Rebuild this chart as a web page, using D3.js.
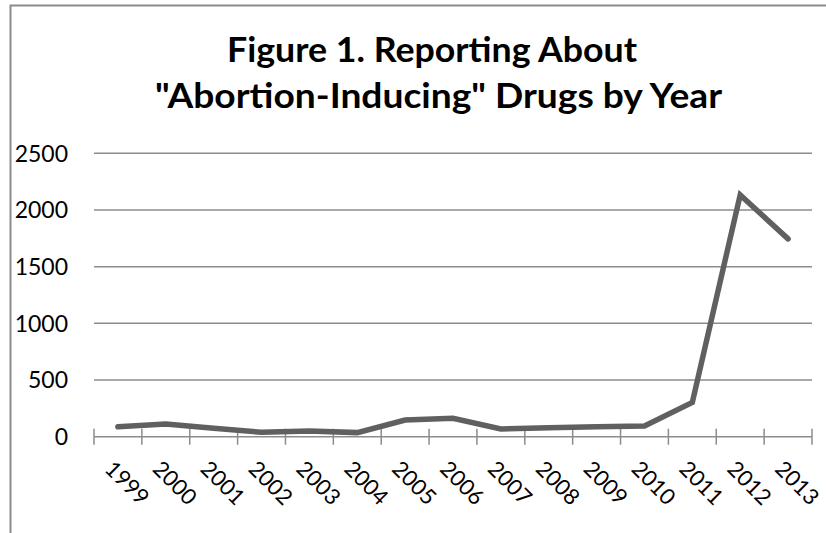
<!DOCTYPE html>
<html><head><meta charset="utf-8">
<script src="https://cdn.jsdelivr.net/npm/d3@7"></script>
<style>html,body{margin:0;padding:0;background:#fff;}svg{display:block;}</style>
</head><body>
<script>
const titleLines = ["Figure 1. Reporting About", "\"Abortion-Inducing\" Drugs by Year"];
const years = ["1999","2000","2001","2002","2003","2004","2005","2006","2007","2008","2009","2010","2011","2012","2013"];
const counts = [88, 112, 74, 39, 50, 36, 147, 162, 68, 80, 88, 94, 303, 2133, 1745];
const yTicks = [0, 500, 1000, 1500, 2000, 2500];

const W = 826, H = 533;
const svg = d3.select("body").append("svg").attr("width", W).attr("height", H);
svg.append("rect").attr("width", W).attr("height", H).attr("fill", "#fff");

// chart border (left + top)
svg.append("path").attr("d", "M10.5,533 V5.5 H826").attr("fill","none").attr("stroke","#8c8c8c").attr("stroke-width",2);

const m = {left: 94, right: 812, top: 153.3, bottom: 436.7};
const x = d3.scaleBand().domain(years).range([m.left, m.right]);
const y = d3.scaleLinear().domain([0, 2500]).range([m.bottom, m.top]);

// title
const titleSpec = [{t: titleLines[0], x: 432, y: 62, w: 410}, {t: titleLines[1], x: 438.5, y: 108, w: 567}];
svg.append("g").selectAll("text").data(titleSpec).join("text")
  .attr("x", d => d.x).attr("y", d => d.y).attr("text-anchor","middle")
  .attr("font-family","Lato").attr("font-weight","bold").attr("font-size",35).attr("fill","#000")
  .attr("textLength", d => d.w).attr("lengthAdjust","spacingAndGlyphs")
  .text(d => d.t);

// gridlines
svg.append("g").selectAll("line").data(yTicks.filter(d => d > 0)).join("line")
  .attr("x1", m.left).attr("x2", m.right).attr("y1", d => y(d)).attr("y2", d => y(d))
  .attr("stroke","#8c8c8c").attr("stroke-width",1.5);

// y labels
svg.append("g").selectAll("text").data(yTicks).join("text")
  .attr("x", 68).attr("y", d => y(d)).attr("dy","0.36em").attr("text-anchor","end")
  .attr("font-family","Lato").attr("font-size",23).attr("fill","#000")
  .text(d => d);

// x axis line
svg.append("line").attr("x1", m.left).attr("x2", m.right).attr("y1", y(0)).attr("y2", y(0))
  .attr("stroke","#8c8c8c").attr("stroke-width",1.5);
const tickPos = years.map(d => x(d)).concat([x(years[years.length-1]) + x.bandwidth()]);
svg.append("g").selectAll("line").data(tickPos).join("line")
  .attr("x1", d => d).attr("x2", d => d).attr("y1", y(0) - 8).attr("y2", y(0) + 8)
  .attr("stroke","#8c8c8c").attr("stroke-width",1.5);

// x labels
svg.append("g").selectAll("text").data(years).join("text")
  .attr("transform", d => `translate(${x(d) + x.bandwidth()/2 - 3},${459}) rotate(45)`)
  .attr("x", 0).attr("y", 16).attr("text-anchor","start")
  .attr("font-family","Lato").attr("font-size",22).attr("fill","#000")
  .text(d => d);

// line
const line = d3.line().x((d,i) => x(years[i]) + x.bandwidth()/2).y(d => y(d));
svg.append("path").datum(counts).attr("d", line).attr("fill","none")
  .attr("stroke","#606060").attr("stroke-width",5.5).attr("stroke-linejoin","miter").attr("stroke-linecap","round");
</script>
</body></html>
